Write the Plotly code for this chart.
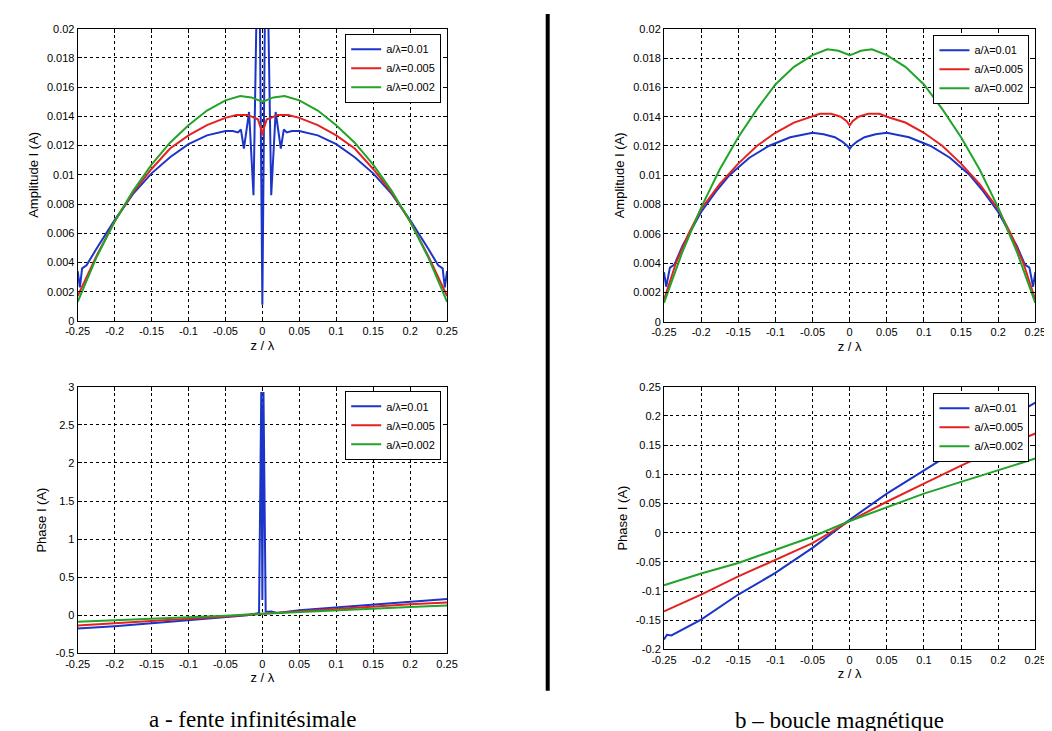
import plotly.graph_objects as go

# ---------------- data ----------------
series_names = ["a/λ=0.01", "a/λ=0.005", "a/λ=0.002"]

# (a) fente infinitésimale - amplitude
amp_a_blue_x = [-0.25, -0.247, -0.244, -0.238, -0.225, -0.2, -0.175, -0.15, -0.125, -0.1, -0.075, -0.05, -0.04, -0.033,
                -0.029, -0.025, -0.018, -0.012, -0.005, 0.0, 0.005, 0.012, 0.018, 0.025, 0.029, 0.033, 0.04, 0.05,
                0.075, 0.1, 0.125, 0.15, 0.175, 0.2, 0.225, 0.238, 0.244, 0.247, 0.25]
amp_a_blue_y = [0.0034, 0.0023, 0.0036, 0.0038, 0.0049, 0.0069, 0.0087, 0.0101, 0.0112, 0.0121, 0.0127, 0.0130, 0.0130, 0.0129,
                0.0131, 0.0118, 0.0143, 0.0086, 0.0300, 0.0011, 0.0300, 0.0086, 0.0143, 0.0118, 0.0131, 0.0129, 0.0130, 0.0130,
                0.0127, 0.0121, 0.0112, 0.0101, 0.0087, 0.0069, 0.0049, 0.0038, 0.0036, 0.0023, 0.0034]
amp_a_red_x = [-0.25, -0.225, -0.2, -0.175, -0.15, -0.125, -0.1, -0.075, -0.05, -0.035, -0.02, -0.012, -0.006, -0.002,
               0.0, 0.002, 0.006, 0.012, 0.02, 0.035, 0.05, 0.075, 0.1, 0.125, 0.15, 0.175, 0.2, 0.225, 0.25]
amp_a_red_y = [0.0017, 0.0044, 0.0068, 0.0088, 0.0104, 0.0118, 0.0127, 0.0134, 0.0139, 0.0141, 0.0141, 0.0139, 0.0138, 0.0132,
               0.0127, 0.0132, 0.0138, 0.0139, 0.0141, 0.0141, 0.0139, 0.0134, 0.0127, 0.0118, 0.0104, 0.0088, 0.0068, 0.0044, 0.0017]
amp_a_green_x = [-0.25, -0.225, -0.2, -0.175, -0.15, -0.125, -0.1, -0.075, -0.05, -0.03, -0.015, -0.005, 0.0,
                 0.005, 0.015, 0.03, 0.05, 0.075, 0.1, 0.125, 0.15, 0.175, 0.2, 0.225, 0.25]
amp_a_green_y = [0.0013, 0.0043, 0.0068, 0.0089, 0.0107, 0.0122, 0.0134, 0.0144, 0.0151, 0.0154, 0.0153, 0.0151, 0.0150,
                 0.0151, 0.0153, 0.0154, 0.0151, 0.0144, 0.0134, 0.0122, 0.0107, 0.0089, 0.0068, 0.0043, 0.0013]

# (b) boucle magnétique - amplitude
amp_b_blue_x = [-0.25, -0.247, -0.242, -0.236, -0.225, -0.2, -0.18, -0.162, -0.135, -0.109, -0.08, -0.05, -0.035, -0.02, -0.01, -0.003,
                0.0, 0.003, 0.01, 0.02, 0.035, 0.05, 0.08, 0.109, 0.135, 0.162, 0.18, 0.2, 0.225, 0.236, 0.242, 0.247, 0.25]
amp_b_blue_y = [0.0034, 0.0024, 0.0037, 0.0039, 0.0052, 0.0075, 0.0089, 0.0100, 0.0112, 0.0120, 0.0126, 0.0129, 0.0128, 0.0126, 0.0123, 0.0120,
                0.0118, 0.0120, 0.0123, 0.0126, 0.0128, 0.0129, 0.0126, 0.0120, 0.0112, 0.0100, 0.0089, 0.0075, 0.0052, 0.0039, 0.0037, 0.0024, 0.0034]
amp_b_red_x = [-0.25, -0.234, -0.217, -0.2, -0.175, -0.15, -0.125, -0.1, -0.075, -0.05, -0.04, -0.025, -0.012, -0.004,
               0.0, 0.004, 0.012, 0.025, 0.04, 0.05, 0.075, 0.1, 0.125, 0.15, 0.175, 0.2, 0.217, 0.234, 0.25]
amp_b_red_y = [0.0015, 0.0040, 0.0060, 0.0077, 0.0094, 0.0108, 0.0120, 0.0129, 0.0136, 0.0140, 0.0142, 0.0142, 0.0140, 0.0137,
               0.0134, 0.0137, 0.0140, 0.0142, 0.0142, 0.0140, 0.0136, 0.0129, 0.0120, 0.0108, 0.0094, 0.0077, 0.0060, 0.0040, 0.0015]
amp_b_green_x = [-0.25, -0.225, -0.2, -0.175, -0.15, -0.125, -0.1, -0.075, -0.05, -0.03, -0.015, -0.006,
                 0.0, 0.006, 0.015, 0.03, 0.05, 0.075, 0.1, 0.125, 0.15, 0.175, 0.2, 0.225, 0.25]
amp_b_green_y = [0.0013, 0.0048, 0.0078, 0.0104, 0.0126, 0.0145, 0.0162, 0.0174, 0.0182, 0.0186, 0.0185, 0.0183,
                 0.0182, 0.0183, 0.0185, 0.0186, 0.0182, 0.0174, 0.0162, 0.0145, 0.0126, 0.0104, 0.0078, 0.0048, 0.0013]

# (a) phase
ph_a_blue_x = [-0.25, -0.2, -0.15, -0.1, -0.05, -0.02, -0.0045, -0.0015, 0.0, 0.0015, 0.0045, 0.008, 0.012, 0.02,
               0.05, 0.1, 0.15, 0.2, 0.25]
ph_a_blue_y = [-0.175, -0.145, -0.105, -0.068, -0.028, 0.000, 0.030, 2.93, 0.20, 2.93, 0.05, 0.045, 0.050, 0.030,
               0.065, 0.105, 0.145, 0.180, 0.215]
ph_a_red_x = [-0.25, -0.2, -0.15, -0.1, -0.05, 0.0, 0.05, 0.1, 0.15, 0.2, 0.25]
ph_a_red_y = [-0.133, -0.105, -0.076, -0.047, -0.018, 0.020, 0.052, 0.083, 0.113, 0.143, 0.168]
ph_a_green_x = [-0.25, -0.2, -0.15, -0.1, -0.05, 0.0, 0.05, 0.1, 0.15, 0.2, 0.25]
ph_a_green_y = [-0.085, -0.068, -0.050, -0.030, -0.008, 0.020, 0.044, 0.066, 0.087, 0.107, 0.127]

# (b) phase
ph_b_blue_x = [-0.25, -0.246, -0.24, -0.2, -0.15, -0.1, -0.05, 0.0, 0.05, 0.1, 0.15, 0.2, 0.25]
ph_b_blue_y = [-0.183, -0.175, -0.176, -0.149, -0.106, -0.069, -0.026, 0.022, 0.067, 0.107, 0.147, 0.186, 0.223]
ph_b_red_x = [-0.25, -0.2, -0.15, -0.1, -0.05, 0.0, 0.05, 0.1, 0.15, 0.2, 0.25]
ph_b_red_y = [-0.135, -0.106, -0.075, -0.047, -0.018, 0.020, 0.053, 0.084, 0.115, 0.144, 0.170]
ph_b_green_x = [-0.25, -0.2, -0.15, -0.1, -0.05, 0.0, 0.05, 0.1, 0.15, 0.2, 0.25]
ph_b_green_y = [-0.090, -0.070, -0.052, -0.030, -0.007, 0.020, 0.044, 0.067, 0.087, 0.107, 0.127]

x_ticks = [-0.25, -0.2, -0.15, -0.1, -0.05, 0, 0.05, 0.1, 0.15, 0.2, 0.25]
x_ticktext = ["-0.25", "-0.2", "-0.15", "-0.1", "-0.05", "0", "0.05", "0.1", "0.15", "0.2", "0.25"]
amp_ticks = [0, 0.002, 0.004, 0.006, 0.008, 0.01, 0.012, 0.014, 0.016, 0.018, 0.02]
amp_ticktext = ["0", "0.002", "0.004", "0.006", "0.008", "0.01", "0.012", "0.014", "0.016", "0.018", "0.02"]
ph_a_ticks = [-0.5, 0, 0.5, 1, 1.5, 2, 2.5, 3]
ph_a_ticktext = ["-0.5", "0", "0.5", "1", "1.5", "2", "2.5", "3"]
ph_b_ticks = [-0.2, -0.15, -0.1, -0.05, 0, 0.05, 0.1, 0.15, 0.2, 0.25]
ph_b_ticktext = ["-0.2", "-0.15", "-0.1", "-0.05", "0", "0.05", "0.1", "0.15", "0.2", "0.25"]

captions = ["a - fente infinitésimale", "b – boucle magnétique"]

# ---------------- figure ----------------
W, H = 1052, 731
colors = ["#1c35c8", "#e52222", "#22a32a"]
FONT = "Liberation Sans, Arial, sans-serif"
SERIF = "Liberation Serif, Times New Roman, serif"

fig = go.Figure()

panels = [
    ("x", "y", "legend", [(amp_a_blue_x, amp_a_blue_y), (amp_a_red_x, amp_a_red_y), (amp_a_green_x, amp_a_green_y)]),
    ("x2", "y2", "legend2", [(amp_b_blue_x, amp_b_blue_y), (amp_b_red_x, amp_b_red_y), (amp_b_green_x, amp_b_green_y)]),
    ("x3", "y3", "legend3", [(ph_a_blue_x, ph_a_blue_y), (ph_a_red_x, ph_a_red_y), (ph_a_green_x, ph_a_green_y)]),
    ("x4", "y4", "legend4", [(ph_b_blue_x, ph_b_blue_y), (ph_b_red_x, ph_b_red_y), (ph_b_green_x, ph_b_green_y)]),
]
for xa, ya, lg, data in panels:
    for (xs, ys), name, c in zip(data, series_names, colors):
        fig.add_trace(go.Scatter(x=xs, y=ys, mode="lines", name=name, xaxis=xa, yaxis=ya,
                                 legend=lg, line=dict(color=c, width=2)))


def px_x(p):
    return p / W


def px_y(p):
    return 1 - p / H


def axis_common(**kw):
    d = dict(showline=True, linecolor="black", linewidth=1, mirror="ticks", ticks="inside", ticklen=4,
             tickcolor="black", showgrid=True, gridcolor="black", griddash="dot", gridwidth=1,
             zeroline=False, tickfont=dict(family=FONT, size=11, color="black"))
    d.update(kw)
    return d


def ytitle(t):
    return dict(text=t, font=dict(family=FONT, size=13, color="black"), standoff=5)


xlbl = dict(text="z / λ", font=dict(family=FONT, size=13, color="black"), standoff=4)
left_dom = [px_x(58), px_x(436)]
right_dom = [px_x(658), px_x(1038)]

layout_axes = dict(
    xaxis=axis_common(domain=left_dom, anchor="y", range=[-0.25, 0.25], tickvals=x_ticks, ticktext=x_ticktext, title=xlbl),
    yaxis=axis_common(domain=[px_y(312), px_y(15)], anchor="x", range=[0, 0.02], tickvals=amp_ticks, ticktext=amp_ticktext,
                      title=ytitle("Amplitude I (A)")),
    xaxis2=axis_common(domain=right_dom, anchor="y2", range=[-0.25, 0.25], tickvals=x_ticks, ticktext=x_ticktext, title=xlbl),
    yaxis2=axis_common(domain=[px_y(313), px_y(15)], anchor="x2", range=[0, 0.02], tickvals=amp_ticks, ticktext=amp_ticktext,
                       title=ytitle("Amplitude I (A)")),
    xaxis3=axis_common(domain=left_dom, anchor="y3", range=[-0.25, 0.25], tickvals=x_ticks, ticktext=x_ticktext, title=xlbl),
    yaxis3=axis_common(domain=[px_y(650), px_y(379)], anchor="x3", range=[-0.5, 3], tickvals=ph_a_ticks, ticktext=ph_a_ticktext,
                       title=ytitle("Phase I (A)")),
    xaxis4=axis_common(domain=right_dom, anchor="y4", range=[-0.25, 0.25], tickvals=x_ticks, ticktext=x_ticktext, title=xlbl),
    yaxis4=axis_common(domain=[px_y(646), px_y(379)], anchor="x4", range=[-0.2, 0.25], tickvals=ph_b_ticks, ticktext=ph_b_ticktext,
                       title=ytitle("Phase I (A)")),
)


def legend_at(xr, yt):
    return dict(x=px_x(xr), y=px_y(yt), xanchor="right", yanchor="top", bgcolor="white",
                bordercolor="black", borderwidth=1, font=dict(family=FONT, size=11, color="black"),
                itemwidth=30, tracegroupgap=0)


fig.update_layout(
    width=W, height=H, margin=dict(l=0, r=0, t=0, b=0),
    paper_bgcolor="white", plot_bgcolor="white",
    font=dict(family=FONT, color="black"),
    legend=legend_at(430, 20), legend2=legend_at(1032, 21),
    legend3=legend_at(430, 383), legend4=legend_at(1032, 385),
    **layout_axes,
)

fig.add_shape(type="line", xref="paper", yref="paper", x0=px_x(539), x1=px_x(539), y0=1, y1=px_y(688),
              line=dict(color="black", width=4))

fig.add_annotation(x=px_x(237), y=px_y(717), xref="paper", yref="paper", text=captions[0], showarrow=False,
                   xanchor="center", yanchor="middle", font=dict(family=SERIF, size=23, color="black"))
fig.add_annotation(x=px_x(838), y=px_y(718), xref="paper", yref="paper", text=captions[1], showarrow=False,
                   xanchor="center", yanchor="middle", font=dict(family=SERIF, size=23, color="black"))

fig.write_html("out.html")
